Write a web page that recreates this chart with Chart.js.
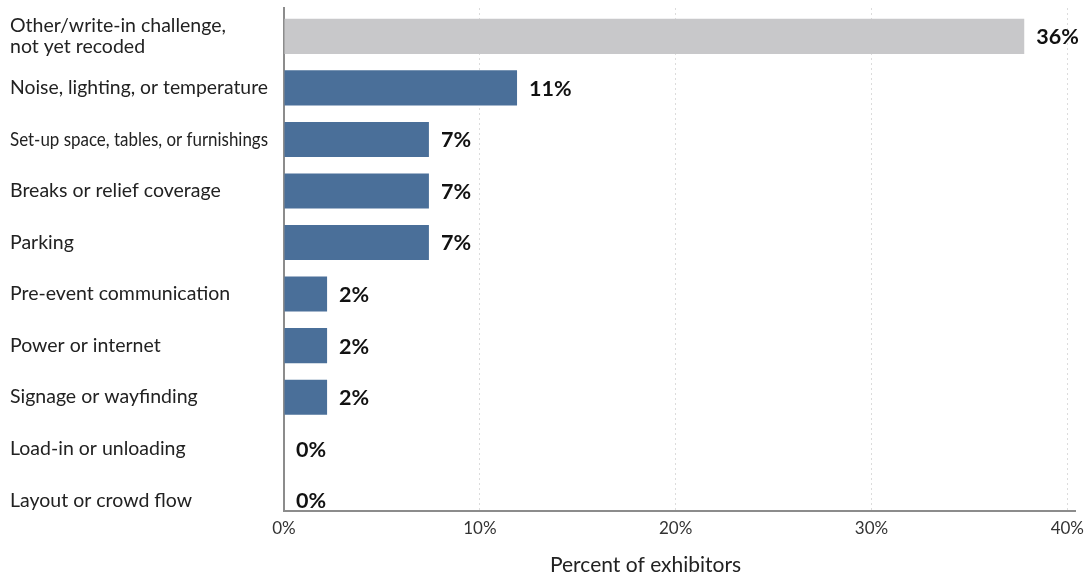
<!DOCTYPE html>
<html>
<head>
<meta charset="utf-8">
<script src="https://cdn.jsdelivr.net/npm/chart.js@4.4.1/dist/chart.umd.min.js"></script>
<style>
    html, body { margin: 0; padding: 0; background: #ffffff; }
    #wrap { width: 1092px; height: 579px; position: relative; }
</style>
</head>
<body>
<div id="wrap"><canvas id="challenges-bar"></canvas></div>
<script>
var categories = [
    ['Other/write-in challenge,', 'not yet recoded'],
    'Noise, lighting, or temperature',
    'Set-up space, tables, or furnishings',
    'Breaks or relief coverage',
    'Parking',
    'Pre-event communication',
    'Power or internet',
    'Signage or wayfinding',
    'Load-in or unloading',
    'Layout or crowd flow'
];
var shares = [37.8, 11.9, 7.4, 7.4, 7.4, 2.2, 2.2, 2.2, 0, 0];
var shareLabels = ['36%', '11%', '7%', '7%', '7%', '2%', '2%', '2%', '0%', '0%'];
var uncoded = [true, false, false, false, false, false, false, false, false, false];
var tickValues = [0, 10, 20, 30, 40];
var axisTitle = 'Percent of exhibitors';

var fontFamily = 'Lato, "Open Sans", sans-serif';

// left aligned category labels, squeezed if too long
var categoryLabels = {
    id: 'categoryLabels',
    afterDraw: function(chart) {
        var ctx = chart.ctx;
        var yScale = chart.scales.y;
        ctx.save();
        ctx.fillStyle = '#222222';
        ctx.font = '19.5px ' + fontFamily;
        ctx.textAlign = 'left';
        ctx.textBaseline = 'middle';
        categories.forEach(function(label, i) {
            var y = yScale.getPixelForValue(i);
            var lines = Array.isArray(label) ? label : [label];
            var lineHeight = 21;
            var top = y - (lines.length - 1) * lineHeight / 2;
            lines.forEach(function(line, j) {
                ctx.fillText(line, 10, top + j * lineHeight, 258);
            });
        });

        // axis title, sits a bit left of the plot centre
        var area = chart.chartArea;
        ctx.font = '21px ' + fontFamily;
        ctx.textAlign = 'center';
        ctx.fillText(axisTitle, area.left + (area.right - area.left) * 0.457, chart.height - 14);
        ctx.restore();
    }
};

var valueLabels = {
    id: 'valueLabels',
    afterDatasetsDraw: function(chart) {
        var ctx = chart.ctx;
        var meta = chart.getDatasetMeta(0);
        ctx.save();
        ctx.fillStyle = '#111111';
        ctx.font = 'bold 21.5px ' + fontFamily;
        ctx.textAlign = 'left';
        ctx.textBaseline = 'middle';
        meta.data.forEach(function(bar, i) {
            ctx.fillText(shareLabels[i], bar.x + 12, bar.y + 1);
        });
        ctx.restore();
    }
};

document.addEventListener('DOMContentLoaded', function() {
    new Chart(document.getElementById('challenges-bar'), {
        type: 'bar',
        data: {
            datasets: [{
                data: shares.map(function(v, i) { return { x: v, y: i }; }),
                backgroundColor: uncoded.map(function(u) { return u ? '#c8c8ca' : '#4a6f99'; }),
                borderWidth: 0,
                barPercentage: 0.68,
                categoryPercentage: 1
            }]
        },
        options: {
            indexAxis: 'y',
            responsive: true,
            maintainAspectRatio: false,
            animation: false,
            layout: {
                padding: { left: 284, right: 0, top: 8, bottom: 32 }
            },
            plugins: {
                legend: { display: false },
                tooltip: { enabled: false }
            },
            scales: {
                x: {
                    min: 0,
                    max: 40.4,
                    afterBuildTicks: function(scale) {
                        scale.ticks = tickValues.map(function(v) { return { value: v }; });
                    },
                    ticks: {
                        color: '#333333',
                        font: { family: fontFamily, size: 17 },
                        padding: 8,
                        callback: function(v) { return v + '%'; }
                    },
                    grid: {
                        color: function(c) { return c.tick && c.tick.value === 0 ? 'rgba(0,0,0,0)' : '#dcdcdc'; },
                        lineWidth: 1,
                        drawTicks: false
                    },
                    border: {
                        display: true,
                        color: '#8c8c8c',
                        width: 2,
                        dash: [2, 3]
                    }
                },
                y: {
                    type: 'linear',
                    reverse: true,
                    offset: false,
                    min: -0.55,
                    max: 9.2,
                    ticks: { display: false, stepSize: 1, includeBounds: false },
                    grid: { display: false, drawTicks: false, offset: false },
                    border: { display: true, color: '#8c8c8c', width: 2 }
                }
            }
        },
        plugins: [categoryLabels, valueLabels]
    });
});
</script>
</body>
</html>
